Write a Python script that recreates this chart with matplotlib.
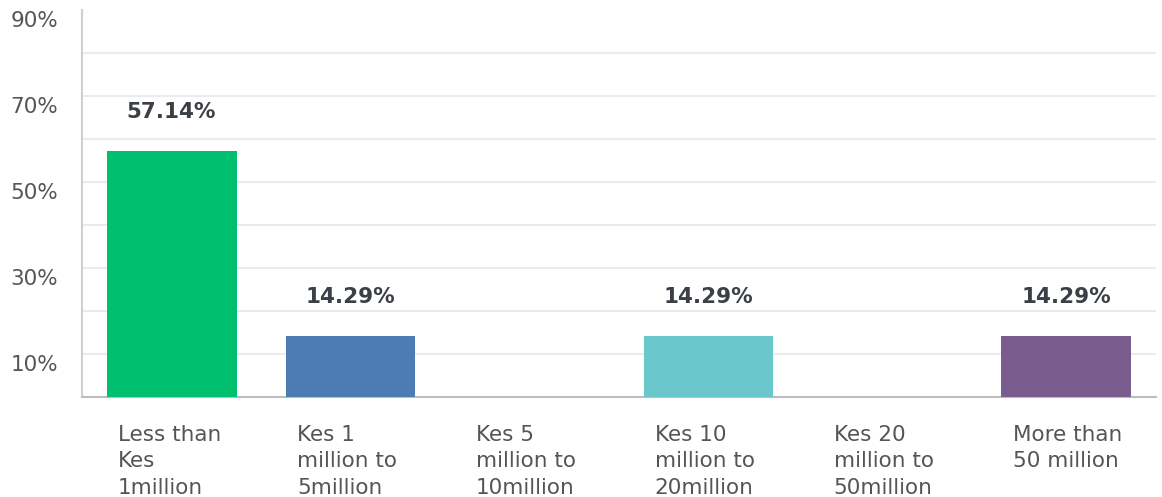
import matplotlib.pyplot as plt
import matplotlib.transforms as mtransforms

categories = [
    "Less than\nKes\n1million",
    "Kes 1\nmillion to\n5million",
    "Kes 5\nmillion to\n10million",
    "Kes 10\nmillion to\n20million",
    "Kes 20\nmillion to\n50million",
    "More than\n50 million",
]
shares = [57.14, 14.29, 0.0, 14.29, 0.0, 14.29]
bar_colors = ["#00BF6F", "#4E7BB4", "#A0A0A0", "#6AC7CC", "#A0A0A0", "#7B5C8E"]
ytick_values = [10, 30, 50, 70, 90]

plt.rcParams["font.family"] = ["DejaVu Sans"]

fig = plt.figure(figsize=(11.62, 4.97), dpi=100)
ax = fig.add_axes([0.0706, 0.2012, 0.9242, 0.7787])

x = list(range(len(categories)))
ax.bar(x, shares, width=0.726, color=bar_colors, linewidth=0, zorder=3)

ax.set_xlim(-0.5, len(categories) - 0.5)
ax.set_ylim(0, 90)

# grid every 10%, labels only on odd tens
for g in range(10, 90, 10):
    ax.axhline(g, color="#ebebeb", linewidth=1.5, zorder=1)

ax.set_yticks(ytick_values)
ax.set_yticklabels([f"{v}%" for v in ytick_values], fontsize=15.5, color="#555555")
ax.tick_params(axis="y", length=0, pad=17)
shift = mtransforms.ScaledTranslation(0, -9 / 100, fig.dpi_scale_trans)
for lbl in ax.get_yticklabels():
    lbl.set_transform(lbl.get_transform() + shift)

ax.set_xticks([])
for i, name in enumerate(categories):
    ax.annotate(name, xy=(i - 0.30, 0), xycoords=("data", "data"),
                xytext=(0, -20), textcoords="offset points",
                ha="left", va="top", fontsize=15.5, color="#555555",
                linespacing=1.4)

for i, v in enumerate(shares):
    if v > 0:
        ax.annotate(f"{v:.2f}%", xy=(i, v), xytext=(0, 28),
                    textcoords="offset points", ha="center", va="center",
                    fontsize=15.5, fontweight="bold", color="#3b4046")

for side in ["top", "right"]:
    ax.spines[side].set_visible(False)
ax.spines["left"].set_color("#d0d0d0")
ax.spines["left"].set_linewidth(1.5)
ax.spines["bottom"].set_color("#bdbdbd")
ax.spines["bottom"].set_linewidth(1.5)

fig.savefig("out.png", dpi=100)
